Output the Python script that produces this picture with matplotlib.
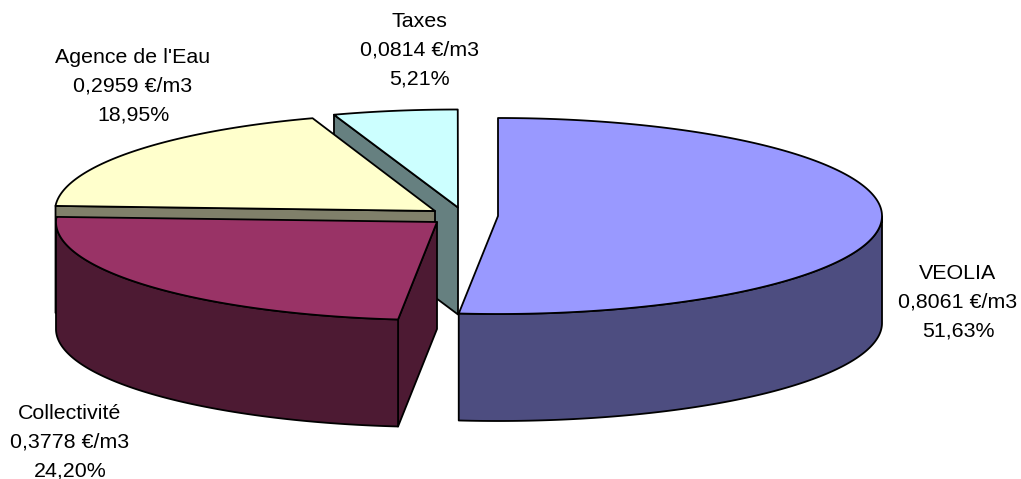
import numpy as np
import matplotlib
matplotlib.use("Agg")
import matplotlib.pyplot as plt
from matplotlib.patches import Polygon

plt.rcParams['font.family'] = ['Liberation Sans', 'DejaVu Sans']

# Data
names = ["VEOLIA", "Collectivité", "Agence de l'Eau", "Taxes"]
prices = [0.8061, 0.3778, 0.2959, 0.0814]
shares = [51.63, 24.20, 18.95, 5.21]

# Style / layout
top_colors = ["#9999FF", "#993366", "#FFFFCC", "#CCFFFF"]
side_colors = ["#4D4D80", "#4D1A33", "#80806A", "#668080"]
centers = [(498, 216), (437, 222), (435, 211), (458, 207.5)]
radii_x = [384, 381, 380, 385]
RY = 98
DEPTH = 107
label_pos = [(958, 302), (70, 442), (133, 86), (419, 50)]

fig = plt.figure(figsize=(10.21, 4.79), dpi=100)
ax = fig.add_axes([0, 0, 1, 1])
ax.set_xlim(0, 1021)
ax.set_ylim(479, 0)
ax.axis("off")

LW = 1.3
def poly(pts, color, z):
    ax.add_patch(Polygon(pts, closed=True, facecolor=color, edgecolor="black",
                         linewidth=LW, joinstyle="round", zorder=z))

bounds = 90 - np.concatenate([[0], np.cumsum(shares)]) * 3.6
order = [3, 2, 1, 0]  # back to front
for n, i in enumerate(order):
    z = 10 + n * 10
    a0, a1 = bounds[i], bounds[i + 1]
    cx, cy = centers[i]
    rx = radii_x[i]
    t = np.radians(np.linspace(a0, a1, 300))
    xs = cx + rx * np.cos(t)
    ys = cy - RY * np.sin(t)
    arc = np.column_stack([xs, ys])
    c = np.array([cx, cy])
    down = np.array([0, DEPTH])
    # cut faces that look towards the viewer
    if np.cos(t[0]) < -1e-6:
        poly([c, arc[0], arc[0] + down, c + down], side_colors[i], z)
    if np.cos(t[-1]) > 1e-6:
        poly([c, arc[-1], arc[-1] + down, c + down], side_colors[i], z)
    # outer wall: front half of the arc only
    front = arc[np.sin(t) <= 0]
    if len(front) > 1:
        poly(np.vstack([front, (front + down)[::-1]]), side_colors[i], z + 1)
    # top
    poly(np.vstack([c, arc]), top_colors[i], z + 2)

for name, price, share, (x, y) in zip(names, prices, shares, label_pos):
    label = f"{name}\n{price:.4f} €/m3\n{share:.2f}%".replace(".", ",")
    ax.text(x, y, label, ha="center", va="center", fontsize=15.4,
            linespacing=1.66, color="black", zorder=100)

fig.savefig("out.png", dpi=100)
